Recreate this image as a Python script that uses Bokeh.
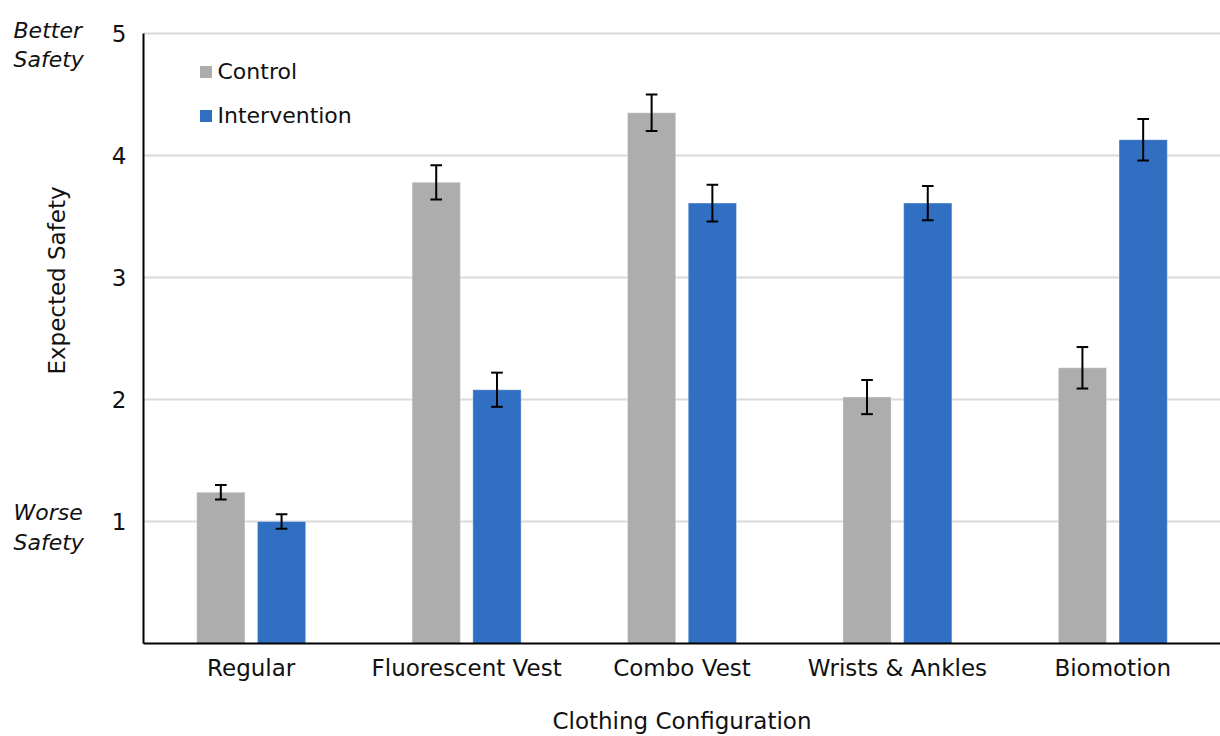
from math import pi
from bokeh.plotting import figure
from bokeh.layouts import row
from bokeh.models import ColumnDataSource, FactorRange, Range1d, FixedTicker, Label
from bokeh.transform import dodge
from bokeh.core.properties import value
from bokeh.embed import file_html
from bokeh.resources import INLINE

categories = ["Regular", "Fluorescent Vest", "Combo Vest", "Wrists & Ankles", "Biomotion"]
series = ["Control", "Intervention"]
control = [1.24, 3.78, 4.35, 2.02, 2.26]
control_err = [0.06, 0.14, 0.15, 0.14, 0.17]
intervention = [1.00, 2.08, 3.61, 3.61, 4.13]
intervention_err = [0.06, 0.14, 0.15, 0.14, 0.17]
y_ticks = [1, 2, 3, 4, 5]
y_title = "Expected Safety"
x_title = "Clothing Configuration"
top_note = ["Better", "Safety"]
bottom_note = ["Worse", "Safety"]

colors = ["#ADADAD", "#306FC2"]
TXT = "#111111"
FONT = "DejaVu Sans"
FS = "23px"

src = ColumnDataSource(dict(
    cat=categories,
    c=control, c_lo=[v - e for v, e in zip(control, control_err)], c_hi=[v + e for v, e in zip(control, control_err)],
    i=intervention, i_lo=[v - e for v, e in zip(intervention, intervention_err)], i_hi=[v + e for v, e in zip(intervention, intervention_err)],
))

W, H = 1220, 736
LW = 108                 # width of left text strip
L, B, R = 143, 93, 0
Y0PX, Y5PX = 643, 33     # page pixel rows of value 0 and value 5
PXU = (Y0PX - Y5PX) / 5.0
CATW = (W - R - L) / len(categories)

def sx(px):
    # page pixel x -> synthetic categorical coordinate of the main plot
    return (px - L) / CATW

# ---------- left strip with the side texts (frame spans page y 0..643) ----------
left = figure(width=LW, height=H, x_range=Range1d(0, LW), y_range=Range1d(H - B, 0),
              output_backend="svg", toolbar_location=None, x_axis_location=None,
              y_axis_location=None, min_border_left=0, min_border_right=0,
              min_border_top=0, min_border_bottom=B)
left.outline_line_color = None
left.grid.visible = False
left.border_fill_color = "white"
left.background_fill_color = "white"

def lab(fig, x, y, t, italic=False, angle=0, align="left", base="alphabetic", size=FS):
    fig.add_layout(Label(x=x, y=y, text=t, text_font=FONT, text_font_size=size, text_color=TXT,
                         text_font_style="italic" if italic else "normal",
                         angle=angle, text_align=align, text_baseline=base))

lab(left, 13, 30, top_note[0], italic=True, size="22px")
lab(left, 13, 59, top_note[1], italic=True, size="22px")
lab(left, 13, 512, bottom_note[0], italic=True, size="22px")
lab(left, 13, 542, bottom_note[1], italic=True, size="22px")
lab(left, 56, 280, y_title, angle=pi / 2, align="center", base="middle")

# ---------- main plot (frame spans page x 143..1220, y 0..643) ----------
p = figure(width=W - LW, height=H, x_range=FactorRange(factors=categories, range_padding=0),
           y_range=Range1d(0, 5 + Y5PX / PXU), output_backend="svg", toolbar_location=None,
           min_border_left=L - LW, min_border_top=0, min_border_bottom=B, min_border_right=R)
p.extra_y_ranges = {"py": Range1d(H - B, 0)}

p.outline_line_color = None
p.background_fill_color = "white"
p.border_fill_color = "white"
p.xgrid.grid_line_color = None
p.ygrid.grid_line_color = "#D9D9D9"
p.ygrid.grid_line_width = 2
p.yaxis.ticker = FixedTicker(ticks=y_ticks)
p.yaxis.bounds = (0, 5)

for ax in (p.xaxis, p.yaxis):
    ax.axis_line_color = "black"
    ax.axis_line_width = 2
    ax.major_tick_line_color = None
    ax.minor_tick_line_color = None
    ax.major_label_text_font = FONT
    ax.major_label_text_font_size = FS
    ax.major_label_text_color = TXT
p.xaxis.major_label_standoff = 5
p.yaxis.major_label_standoff = 11
p.xaxis.axis_label = x_title
p.xaxis.axis_label_text_font = FONT
p.xaxis.axis_label_text_font_size = FS
p.xaxis.axis_label_text_font_style = "normal"
p.xaxis.axis_label_text_color = TXT
p.xaxis.axis_label_standoff = 24

off = 0.141
bw = 0.224
cap = 0.027
for col, lo, hi, o, color in (("c", "c_lo", "c_hi", -off, colors[0]), ("i", "i_lo", "i_hi", off, colors[1])):
    xd = dodge("cat", o, range=p.x_range)
    p.vbar(x=xd, top=col, bottom=0, width=bw, source=src, fill_color=color,
           line_color="white", line_alpha=0.35, line_width=1)
    p.segment(x0=xd, x1=xd, y0=lo, y1=hi, source=src, line_color="black", line_width=2)
    for yy in (lo, hi):
        p.segment(x0=dodge("cat", o - cap, range=p.x_range), x1=dodge("cat", o + cap, range=p.x_range),
                  y0=yy, y1=yy, source=src, line_color="black", line_width=2)

# legend (drawn inside the frame)
p.scatter(x=[sx(205.5)] * 2, y=[71.5, 115.5], marker="square", size=12, color=colors,
          y_range_name="py", line_color=None)
p.text(x=[sx(217)] * 2, y=[71, 115], text=series, y_range_name="py",
       text_font=value(FONT), text_font_size="22px", text_baseline="middle", text_align="left",
       text_color=TXT)

open("out.html", "w").write(file_html(row(left, p, spacing=0), INLINE))
